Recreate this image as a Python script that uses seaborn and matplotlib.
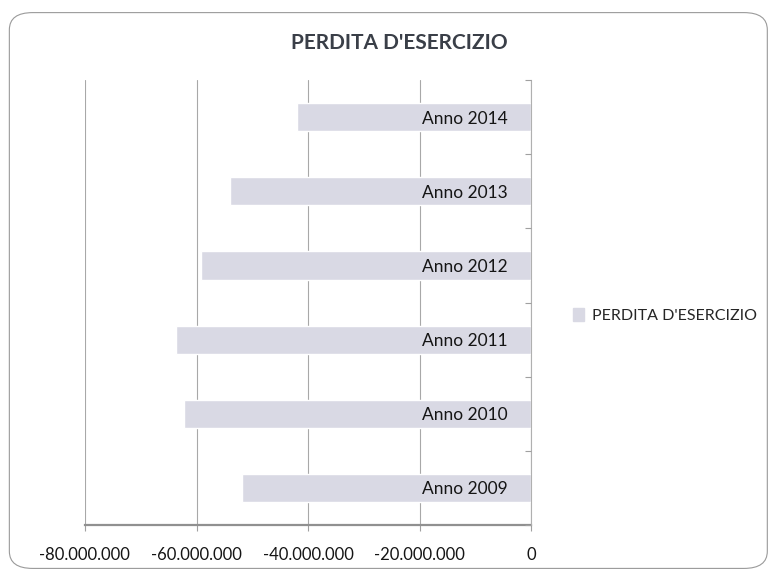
import seaborn as sns
import matplotlib.pyplot as plt
import pandas as pd
import numpy as np
from matplotlib.ticker import FuncFormatter, FixedLocator
from matplotlib.patches import FancyBboxPatch, Patch

# Dati (valori in euro, negativi = perdita)
anni = ["Anno 2009", "Anno 2010", "Anno 2011", "Anno 2012", "Anno 2013", "Anno 2014"]
perdite = [-51_800_000, -62_300_000, -63_600_000, -59_200_000, -54_000_000, -42_000_000]
serie = "PERDITA D'ESERCIZIO"

df = pd.DataFrame({"anno": anni, "perdita": perdite})

sns.set_style("white")
plt.rcParams["font.family"] = ["Lato", "DejaVu Sans"]

fig = plt.figure(figsize=(7.79, 5.73), dpi=100)
ax = fig.add_axes([0.109, 0.084, 0.573, 0.776])

# barre orizzontali, 2014 in alto
sns.barplot(data=df, x="perdita", y="anno", order=anni[::-1], orient="h",
            color="#d9d9e4", saturation=1, width=0.38, ax=ax)

ax.set_xlim(-80_000_000, 0)
ax.set_xticks(np.arange(-80_000_000, 1, 20_000_000))
ax.xaxis.set_major_formatter(FuncFormatter(lambda v, p: f"{int(v):,}".replace(",", ".")))
ax.grid(axis="x", color="#a8a8a8", linewidth=0.8)
ax.grid(axis="y", visible=False)
ax.set_axisbelow(True)
# le etichette delle categorie stanno sopra le barre
ax.yaxis.set_zorder(3)

# asse delle categorie sullo zero, come in Excel
ax.spines["left"].set_position(("data", 0))
ax.spines["left"].set_color("#b0b0b0")
ax.spines["left"].set_linewidth(0.8)
ax.spines["left"].set_zorder(3)
ax.spines["bottom"].set_color("#909090")
ax.spines["bottom"].set_linewidth(1.6)
ax.spines["top"].set_visible(False)
ax.spines["right"].set_visible(False)

ax.yaxis.set_minor_locator(FixedLocator(np.arange(len(anni) + 1) - 0.5))
ax.tick_params(axis="y", which="major", length=0, pad=17, labelsize=12.5, labelcolor="#151515")
ax.tick_params(axis="y", which="minor", left=True, length=4, color="#a0a0a0", width=0.8)
ax.tick_params(axis="x", bottom=True, length=4, color="#a0a0a0", pad=12,
               labelsize=12, labelcolor="#151515")
ax.set_xlabel("")
ax.set_ylabel("")

fig.text(0.513, 0.925, serie, ha="center", va="center", fontsize=15,
         fontweight="bold", color="#3a3f48")

fig.legend(handles=[Patch(color="#d9d9e4")], labels=[serie], loc="center left",
           bbox_to_anchor=(0.717, 0.449), frameon=False, fontsize=11.5,
           handlelength=0.7, handleheight=0.9, handletextpad=0.5, labelcolor="#252525")

# cornice arrotondata del grafico
bordo = FancyBboxPatch((0.012, 0.008), 0.973, 0.97, boxstyle="round,pad=0,rounding_size=0.03",
                       transform=fig.transFigure, fill=False, edgecolor="#9a9a9a", linewidth=0.8)
fig.patches.append(bordo)

fig.savefig("out.png", dpi=100)
